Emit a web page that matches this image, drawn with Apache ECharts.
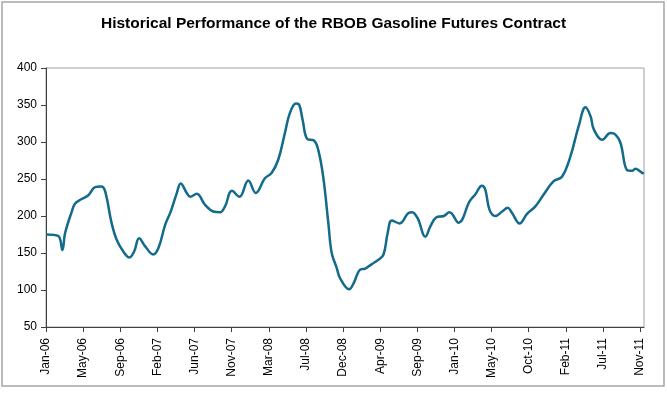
<!DOCTYPE html>
<html>
<head>
<meta charset="utf-8">
<script src="https://cdn.jsdelivr.net/npm/echarts@6/dist/echarts.min.js"></script>
<style>
	html, body { margin: 0; padding: 0; background: #fff; }
	#chart { width: 667px; height: 397px; }
</style>
</head>
<body>
<div id="chart"></div>
<script>
// price readings (cents/gallon)
var dates = [
	'2006-01-02','2006-02-14','2006-03-01','2006-03-11','2006-04-04','2006-04-16','2006-05-10','2006-06-03',
	'2006-06-27','2006-07-19','2006-08-02','2006-08-26','2006-09-13','2006-10-07','2006-10-29','2006-11-15',
	'2006-12-03','2006-12-25','2007-01-23','2007-02-11','2007-03-07','2007-03-27','2007-04-18','2007-05-02',
	'2007-05-24','2007-06-05','2007-06-29','2007-07-29','2007-08-28','2007-09-21','2007-10-09','2007-11-03',
	'2007-11-30','2008-01-01','2008-01-28','2008-03-01','2008-03-25','2008-04-18','2008-05-12','2008-05-30',
	'2008-06-21','2008-07-03','2008-07-15','2008-08-01','2008-08-25','2008-09-09','2008-09-27','2008-10-16',
	'2008-10-28','2008-11-15','2008-11-27','2008-12-30','2009-01-15','2009-02-06','2009-02-26','2009-03-22',
	'2009-04-15','2009-05-03','2009-05-18','2009-06-02','2009-06-30','2009-08-01','2009-08-14','2009-09-03',
	'2009-10-01','2009-10-19','2009-11-09','2009-12-06','2009-12-27','2010-01-29','2010-03-10','2010-03-30',
	'2010-04-23','2010-05-05','2010-05-21','2010-06-11','2010-07-05','2010-07-25','2010-08-10','2010-09-06',
	'2010-10-03','2010-11-02','2010-12-02','2011-01-07','2011-02-06','2011-03-08','2011-04-07','2011-05-02',
	'2011-05-20','2011-06-01','2011-07-01','2011-07-31','2011-08-18','2011-09-05','2011-09-29','2011-10-17',
	'2011-10-29','2011-11-16','2011-11-28'
];
var prices = [
	175,173,154,177,206,217,223,228,
	239,240,234,190,168,152,144,152,
	170,159,148,157,188,206,231,244,
	231,226,230,215,206,205,213,234,
	226,248,231,251,258,276,312,339,
	352,350,330,304,302,290,254,190,
	150,130,116,101,109,127,129,135,
	141,148,177,194,190,204,205,197,
	172,186,198,200,205,191,220,229,
	241,236,208,200,206,211,204,190,
	203,213,229,247,253,280,321,347,
	335,317,303,312,310,299,262,261,
	264,260,257
];
var yTicks = [50, 400, 50];   // min, max, step
var monthNames = ['Jan','Feb','Mar','Apr','May','Jun','Jul','Aug','Sep','Oct','Nov','Dec'];

var base = Date.UTC(2006, 0, 1);
var dayMs = 86400000;
var tickDays = 134;   // excel date axis major unit

function toDay(s) {
	var p = s.split('-');
	return (Date.UTC(+p[0], +p[1] - 1, +p[2]) - base) / dayMs;
}

var seriesData = [];
for (var i = 0; i < dates.length; i++) {
	seriesData.push([toDay(dates[i]), prices[i]]);
}

var chart = echarts.init(document.getElementById('chart'));
chart.setOption({
	animation: false,
	textStyle: { fontFamily: 'Liberation Sans, Arial, sans-serif' },
	title: {
		text: 'Historical Performance of the RBOB Gasoline Futures Contract',
		left: 'center',
		top: 16,
		padding: 0,
		textStyle: { fontSize: 15.5, fontWeight: 'bold', color: '#000' }
	},
	graphic: [{
		type: 'rect',
		z: -10,
		shape: { x: 2, y: 2, width: 662, height: 384 },
		style: { fill: '#fff', stroke: '#a6a6a6', lineWidth: 1.5 }
	}],
	grid: {
		left: 46,
		right: 23,
		top: 68,
		bottom: 70,
		show: true,
		borderColor: '#a0a0a0',
		borderWidth: 1
	},
	xAxis: {
		type: 'value',
		min: 0,
		max: 2158,
		interval: tickDays,
		axisLine: { lineStyle: { color: '#404040', width: 1 } },
		axisTick: { length: 5, lineStyle: { color: '#404040' } },
		splitLine: { show: false },
		axisLabel: {
			rotate: 90,
			fontSize: 12,
			color: '#000',
			margin: 11,
			showMaxLabel: false,
			formatter: function (v) {
				if (v % tickDays !== 0) return '';
				var d = new Date(base + v * dayMs);
				var yy = String(d.getUTCFullYear()).slice(2);
				return monthNames[d.getUTCMonth()] + '-' + yy;
			}
		}
	},
	yAxis: {
		type: 'value',
		min: yTicks[0],
		max: yTicks[1],
		interval: yTicks[2],
		axisLine: { show: true, lineStyle: { color: '#404040', width: 1 } },
		axisTick: { show: true, length: 5, lineStyle: { color: '#404040' } },
		splitLine: { show: false },
		axisLabel: { fontSize: 12, color: '#000', margin: 9 }
	},
	series: [{
		type: 'line',
		data: seriesData,
		smooth: 0.4,
		showSymbol: false,
		lineStyle: { color: '#136a8a', width: 2.5 }
	}]
});
</script>
</body>
</html>
